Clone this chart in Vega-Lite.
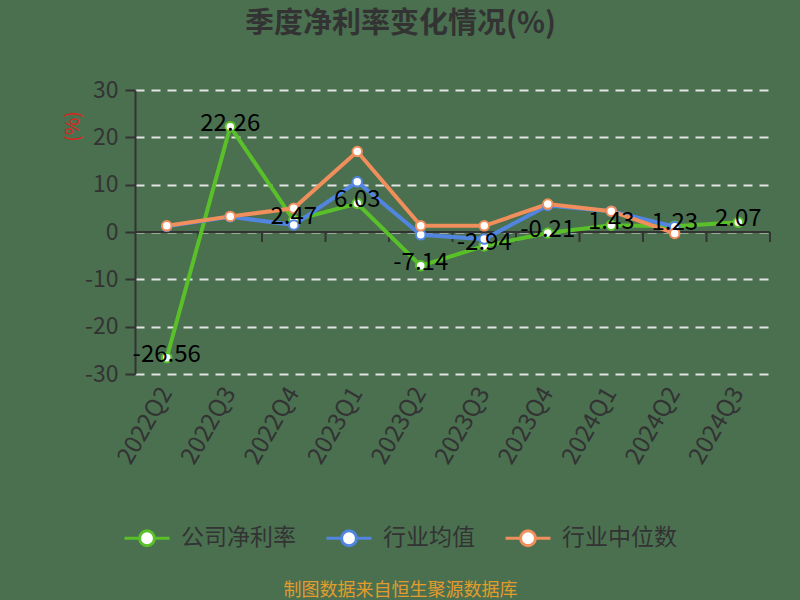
{
  "$schema": "https://vega.github.io/schema/vega-lite/v6.json",
  "width": 635,
  "height": 284,
  "autosize": {"type": "none"},
  "padding": {"left": 135, "top": 90, "right": 30, "bottom": 226},
  "background": "#4a7050",
  "config": {"view": {"stroke": null}, "font": "Noto Sans CJK SC"},
  "title": {
    "text": "季度净利率变化情况(%)",
    "fontSize": 29,
    "fontWeight": "bold",
    "color": "#333333",
    "anchor": "middle",
    "frame": "group",
    "dx": -52,
    "offset": 40
  },
  "datasets": {
    "rows": [
      {"q": "2022Q2", "s": "公司净利率", "v": -26.56},
      {"q": "2022Q3", "s": "公司净利率", "v": 22.26},
      {"q": "2022Q4", "s": "公司净利率", "v": 2.47},
      {"q": "2023Q1", "s": "公司净利率", "v": 6.03},
      {"q": "2023Q2", "s": "公司净利率", "v": -7.14},
      {"q": "2023Q3", "s": "公司净利率", "v": -2.94},
      {"q": "2023Q4", "s": "公司净利率", "v": -0.21},
      {"q": "2024Q1", "s": "公司净利率", "v": 1.43},
      {"q": "2024Q2", "s": "公司净利率", "v": 1.23},
      {"q": "2024Q3", "s": "公司净利率", "v": 2.07},
      {"q": "2022Q2", "s": "行业均值", "v": 1.2},
      {"q": "2022Q3", "s": "行业均值", "v": 3.2},
      {"q": "2022Q4", "s": "行业均值", "v": 1.5},
      {"q": "2023Q1", "s": "行业均值", "v": 10.6},
      {"q": "2023Q2", "s": "行业均值", "v": -0.6},
      {"q": "2023Q3", "s": "行业均值", "v": -1.5},
      {"q": "2023Q4", "s": "行业均值", "v": 5.6},
      {"q": "2024Q1", "s": "行业均值", "v": 4.4},
      {"q": "2024Q2", "s": "行业均值", "v": 1.1},
      {"q": "2022Q2", "s": "行业中位数", "v": 1.3},
      {"q": "2022Q3", "s": "行业中位数", "v": 3.3},
      {"q": "2022Q4", "s": "行业中位数", "v": 5.0},
      {"q": "2023Q1", "s": "行业中位数", "v": 17.0},
      {"q": "2023Q2", "s": "行业中位数", "v": 1.3},
      {"q": "2023Q3", "s": "行业中位数", "v": 1.3},
      {"q": "2023Q4", "s": "行业中位数", "v": 5.9},
      {"q": "2024Q1", "s": "行业中位数", "v": 4.4},
      {"q": "2024Q2", "s": "行业中位数", "v": -0.3}
    ],
    "quarters": [
      {"q": "2022Q2"}, {"q": "2022Q3"}, {"q": "2022Q4"}, {"q": "2023Q1"}, {"q": "2023Q2"},
      {"q": "2023Q3"}, {"q": "2023Q4"}, {"q": "2024Q1"}, {"q": "2024Q2"}, {"q": "2024Q3"}
    ]
  },
  "layer": [
    {
      "data": {"name": "quarters"},
      "mark": {"type": "rule", "color": "#333333", "strokeWidth": 2},
      "encoding": {
        "x": {
          "field": "q", "type": "ordinal", "bandPosition": 1,
          "sort": ["2022Q2","2022Q3","2022Q4","2023Q1","2023Q2","2023Q3","2023Q4","2024Q1","2024Q2","2024Q3"],
          "scale": {"type": "band", "paddingInner": 0, "paddingOuter": 0},
          "axis": {
            "orient": "bottom",
            "domain": false,
            "ticks": false,
            "grid": false,
            "labelAngle": -60,
            "labelAlign": "right",
            "labelBaseline": "middle",
            "labelFontSize": 24,
            "labelColor": "#333333",
            "labelPadding": 15,
            "title": "制图数据来自恒生聚源数据库",
            "titleColor": "#e39c2c",
            "titleFontSize": 18,
            "titleFontWeight": "normal",
            "titleX": 265,
            "titleY": 216,
            "titleAlign": "center",
            "titleBaseline": "middle"
          }
        },
        "y": {
          "datum": 0,
          "type": "quantitative",
          "scale": {"domain": [-30, 30], "nice": false, "zero": false},
          "axis": {
            "values": [-30, -20, -10, 0, 10, 20, 30],
            "labelExpr": "'' + datum.value",
            "domain": true,
            "domainColor": "#333333",
            "domainWidth": 2,
            "ticks": true,
            "tickColor": "#333333",
            "tickSize": 10,
            "tickWidth": 2,
            "labelFontSize": 23,
            "labelColor": "#333333",
            "labelPadding": 7,
            "grid": true,
            "gridColor": "#e4e4e4",
            "gridDash": [9, 7],
            "gridWidth": 2,
            "title": "(%)",
            "titleColor": "#dc2418",
            "titleFontSize": 19,
            "titleFontWeight": "normal",
            "titleAngle": -90,
            "titleX": -63,
            "titleY": 36,
            "titleAlign": "center",
            "titleBaseline": "middle"
          }
        },
        "y2": {"datum": -2.1}
      }
    },
    {
      "data": {"values": [{}]},
      "mark": {"type": "rule", "color": "#333333", "strokeWidth": 2},
      "encoding": {"y": {"datum": 0, "type": "quantitative"}}
    },
    {
      "data": {"name": "rows"},
      "mark": {"type": "line", "strokeWidth": 4},
      "encoding": {
        "x": {"field": "q", "type": "ordinal", "bandPosition": 0.5},
        "y": {"field": "v", "type": "quantitative"},
        "color": {
          "field": "s",
          "type": "nominal",
          "scale": {"domain": ["公司净利率", "行业均值", "行业中位数"], "range": ["#5ac02a", "#5285e0", "#f08e5c"]},
          "legend": {
            "orient": "none",
            "legendX": -12,
            "legendY": 424,
            "direction": "horizontal",
            "title": null,
            "padding": 0,
            "symbolType": "M-1,0L-0.33,0M0.33,0A0.33,0.33,0,1,1,-0.33,0A0.33,0.33,0,1,1,0.33,0M0.33,0L1,0",
            "symbolSize": 2025,
            "symbolStrokeWidth": 3,
            "symbolFillColor": "#ffffff",
            "labelFontSize": 23,
            "labelColor": "#333333",
            "labelOffset": 10,
            "columnPadding": 24,
            "labelLimit": 300
          }
        }
      }
    },
    {
      "data": {"name": "rows"},
      "mark": {"type": "point", "shape": "circle", "filled": false, "fill": "#ffffff", "fillOpacity": 1, "opacity": 1, "strokeWidth": 2, "size": 90},
      "encoding": {
        "x": {"field": "q", "type": "ordinal", "bandPosition": 0.5},
        "y": {"field": "v", "type": "quantitative"},
        "color": {"field": "s", "type": "nominal"}
      }
    },
    {
      "data": {"name": "rows"},
      "transform": [{"filter": "datum.s === '公司净利率'"}],
      "mark": {"type": "text", "fontSize": 24, "color": "#000000", "dy": -3, "align": "center", "baseline": "middle"},
      "encoding": {
        "x": {"field": "q", "type": "ordinal", "bandPosition": 0.5},
        "y": {"field": "v", "type": "quantitative"},
        "text": {"field": "v", "type": "nominal"}
      }
    }
  ]
}
